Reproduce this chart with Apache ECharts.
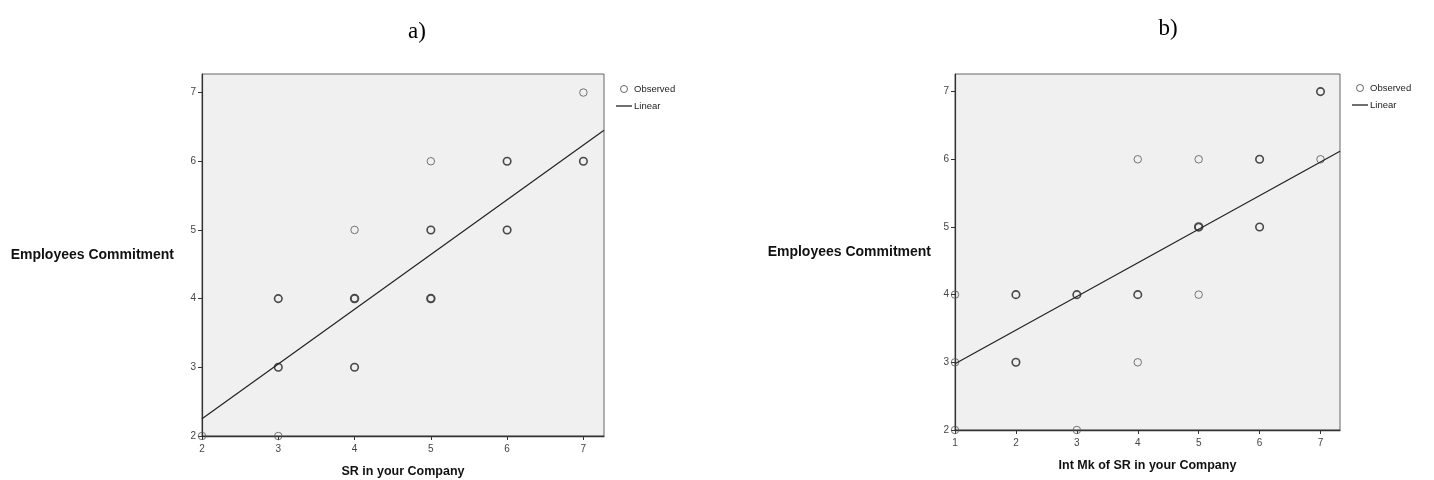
<!DOCTYPE html>
<html>
<head>
<meta charset="utf-8">
<title>Employees Commitment scatter plots</title>
<script src="https://cdn.jsdelivr.net/npm/echarts@6/dist/echarts.min.js"></script>
<style>
  html, body { margin: 0; padding: 0; background: #ffffff; }
  #chart { width: 1434px; height: 480px; }
</style>
</head>
<body>
<div id="chart"></div>
<script>
// Panel a): Employees Commitment vs. SR in your Company
const xTicksA = [2, 3, 4, 5, 6, 7];
const yTicksA = [2, 3, 4, 5, 6, 7];
const pointsA = [
  [2, 2], [3, 2], [3, 3], [3, 4], [4, 3], [4, 4], [4, 5],
  [5, 4], [5, 5], [5, 6], [6, 5], [6, 6], [7, 6], [7, 7]
];
// number of coinciding observations at each point (drawn as heavier rings)
const overlapA = [1, 1, 2, 2, 2, 3, 1, 3, 2, 1, 2, 2, 2, 1];
// fitted linear trend, endpoints at the axis extent
const fitA = [[2, 2.25], [7.27, 6.45]];

// Panel b): Employees Commitment vs. Int Mk of SR in your Company
const xTicksB = [1, 2, 3, 4, 5, 6, 7];
const yTicksB = [2, 3, 4, 5, 6, 7];
const pointsB = [
  [1, 2], [1, 3], [1, 4], [2, 3], [2, 4], [3, 2], [3, 4], [4, 3], [4, 4],
  [4, 6], [5, 4], [5, 5], [5, 6], [6, 5], [6, 6], [7, 6], [7, 7]
];
const overlapB = [1, 1, 1, 2, 2, 1, 2, 1, 2, 1, 1, 3, 1, 2, 2, 1, 2];
const fitB = [[1, 2.98], [7.32, 6.12]];

const panelTitles = ['a)', 'b)'];
const yName = 'Employees Commitment';
const xNames = ['SR in your Company', 'Int Mk of SR in your Company'];

const chart = echarts.init(document.getElementById('chart'), null, { renderer: 'canvas' });

function ringData(points, overlap) {
  return points.map(function (p, i) {
    const n = overlap[i];
    return {
      value: p,
      itemStyle: {
        borderWidth: n >= 3 ? 2 : (n === 2 ? 1.6 : 1),
        borderColor: n >= 2 ? '#1e1e1e' : '#555555'
      }
    };
  });
}

function xAxisCfg(gridIndex, ticks, max, name, gap) {
  return {
    type: 'value', gridIndex: gridIndex,
    min: ticks[0], max: max,
    name: name, nameLocation: 'middle', nameGap: gap,
    nameTextStyle: { fontFamily: 'Liberation Sans', fontWeight: 'bold', fontSize: 12.5, color: '#111' },
    axisLine: { show: true, lineStyle: { color: '#333', width: 1.3 } },
    axisTick: { show: true, length: 4, customValues: ticks, lineStyle: { color: '#333' } },
    axisLabel: { customValues: ticks, margin: 8, fontFamily: 'Liberation Sans', fontSize: 10, color: '#444' },
    splitLine: { show: false }
  };
}

function yAxisCfg(gridIndex, ticks, max, gap) {
  return {
    type: 'value', gridIndex: gridIndex,
    min: ticks[0], max: max,
    name: yName, nameLocation: 'middle', nameRotate: 0, nameGap: gap,
    nameTextStyle: { fontFamily: 'Liberation Sans', fontWeight: 'bold', fontSize: 14, color: '#111', align: 'right', verticalAlign: 'middle' },
    axisLine: { show: true, lineStyle: { color: '#333', width: 1.2 } },
    axisTick: { show: true, length: 4, customValues: ticks, lineStyle: { color: '#333' } },
    axisLabel: { customValues: ticks, margin: 6, fontFamily: 'Liberation Sans', fontSize: 10, color: '#444' },
    splitLine: { show: false }
  };
}

function legendCfg(left, top) {
  return {
    left: left, top: top, orient: 'vertical',
    itemWidth: 16, itemHeight: 7, itemGap: 7,
    textStyle: { fontFamily: 'Liberation Sans', fontSize: 9.5, color: '#222', padding: [0, 0, 0, -3] },
    data: [
      { name: 'Observed', icon: 'circle',
        itemStyle: { color: 'transparent', borderColor: '#444', borderWidth: 1 } },
      { name: 'Linear', icon: 'path://M0,0 L16,0 L16,1.3 L0,1.3 Z',
        itemStyle: { color: '#222', borderWidth: 0 } }
    ],
    selectedMode: false
  };
}

const ringStyle = { color: 'transparent', borderColor: '#444', borderWidth: 1 };

const option = {
  backgroundColor: '#ffffff',
  animation: false,
  title: [
    { text: panelTitles[0], left: 412, top: 15, textAlign: 'center',
      textStyle: { fontFamily: 'Liberation Serif', fontWeight: 'normal', fontSize: 23, color: '#000' } },
    { text: panelTitles[1], left: 1163, top: 12, textAlign: 'center',
      textStyle: { fontFamily: 'Liberation Serif', fontWeight: 'normal', fontSize: 23, color: '#000' } }
  ],
  legend: [legendCfg(611, 79), legendCfg(1347, 78)],
  grid: [
    { left: 202, top: 74, width: 402, height: 362, show: true, outerBoundsMode: 'none',
      backgroundColor: '#f0f0f0', borderColor: '#666', borderWidth: 1 },
    { left: 955, top: 74, width: 385, height: 356, show: true, outerBoundsMode: 'none',
      backgroundColor: '#f0f0f0', borderColor: '#666', borderWidth: 1 }
  ],
  xAxis: [
    xAxisCfg(0, xTicksA, 7.27, xNames[0], 29),
    xAxisCfg(1, xTicksB, 7.32, xNames[1], 29)
  ],
  yAxis: [
    yAxisCfg(0, yTicksA, 7.27, 28),
    yAxisCfg(1, yTicksB, 7.26, 24)
  ],
  series: [
    { name: 'Observed', type: 'scatter', xAxisIndex: 0, yAxisIndex: 0,
      symbol: 'circle', symbolSize: 7.5, clip: true, itemStyle: ringStyle,
      data: ringData(pointsA, overlapA) },
    { name: 'Linear', type: 'line', xAxisIndex: 0, yAxisIndex: 0,
      symbol: 'none', clip: true, lineStyle: { color: '#222', width: 1.2 },
      itemStyle: { color: '#222' }, data: fitA },
    { name: 'Observed', type: 'scatter', xAxisIndex: 1, yAxisIndex: 1,
      symbol: 'circle', symbolSize: 7.5, clip: true, itemStyle: ringStyle,
      data: ringData(pointsB, overlapB) },
    { name: 'Linear', type: 'line', xAxisIndex: 1, yAxisIndex: 1,
      symbol: 'none', clip: true, lineStyle: { color: '#222', width: 1.2 },
      itemStyle: { color: '#222' }, data: fitB }
  ]
};

chart.setOption(option);
</script>
</body>
</html>
